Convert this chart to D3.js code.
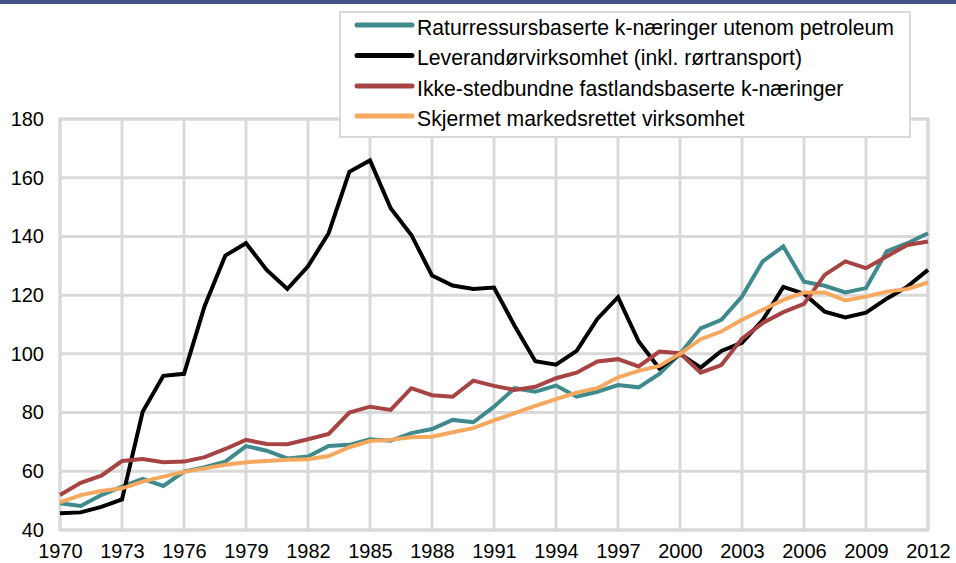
<!DOCTYPE html>
<html>
<head>
<meta charset="utf-8">
<script src="https://cdn.jsdelivr.net/npm/d3@7"></script>
<style>
  html, body { margin: 0; padding: 0; background: #fff; }
  svg { display: block; font-family: "Liberation Sans", Arial, sans-serif; }
</style>
</head>
<body>
<svg id="chart" width="956" height="563"></svg>
<script>
const years = d3.range(1970, 2013);
const xTickYears = [1970, 1973, 1976, 1979, 1982, 1985, 1988, 1991, 1994, 1997, 2000, 2003, 2006, 2009, 2012];
const yTicks = [40, 60, 80, 100, 120, 140, 160, 180];

const seriesNames = [
  "Raturressursbaserte k-næringer utenom petroleum",
  "Leverandørvirksomhet (inkl. rørtransport)",
  "Ikke-stedbundne fastlandsbaserte k-næringer",
  "Skjermet markedsrettet virksomhet"
];
const seriesColors = ["#3e8a8c", "#000000", "#a84343", "#f6a95e"];

const raturressurs = [49.1, 48.2, 51.9, 54.8, 57.4, 55.0, 59.9, 61.4, 63.3, 68.6,
  67.0, 64.4, 65.0, 68.6, 69.0, 70.9, 70.4, 73.0, 74.4, 77.5,
  76.7, 82.0, 88.3, 87.1, 89.2, 85.4, 87.1, 89.4, 88.6, 93.2,
  100.0, 108.7, 111.6, 119.5, 131.5, 136.6, 124.6, 123.2, 120.9, 122.4,
  134.9, 137.7, 141.1];
const leverandor = [45.7, 46.0, 47.9, 50.4, 80.3, 92.5, 93.2, 116.3, 133.5, 137.7,
  128.6, 122.1, 129.8, 141.1, 162.0, 165.9, 149.6, 140.5, 126.7, 123.3,
  122.1, 122.6, 109.5, 97.5, 96.3, 101.0, 111.9, 119.3, 104.2, 95.0,
  100.0, 95.3, 101.0, 103.8, 111.5, 122.8, 120.5, 114.4, 112.4, 114.0,
  118.8, 122.9, 128.6];
const ikkeStedbundne = [51.9, 56.1, 58.5, 63.5, 64.2, 63.1, 63.3, 64.8, 67.6, 70.7,
  69.3, 69.2, 70.9, 72.7, 80.0, 82.0, 80.9, 88.3, 85.9, 85.4,
  90.9, 89.1, 87.7, 88.8, 91.7, 93.6, 97.4, 98.2, 95.7, 100.8,
  100.2, 93.6, 96.2, 105.2, 110.5, 114.2, 117.0, 126.9, 131.5, 129.2,
  133.2, 137.1, 138.3];
const skjermet = [49.4, 51.9, 53.3, 54.2, 56.5, 58.2, 59.8, 61.0, 62.2, 63.1,
  63.5, 63.9, 64.1, 65.2, 68.2, 70.3, 70.7, 71.6, 71.8, 73.3,
  74.7, 77.3, 79.8, 82.3, 84.6, 86.8, 88.3, 92.0, 94.2, 95.9,
  100.0, 105.0, 107.6, 111.6, 115.0, 118.4, 120.9, 120.9, 118.2, 119.5,
  121.2, 122.1, 124.3];

const seriesValues = [raturressurs, leverandor, ikkeStedbundne, skjermet];

const svg = d3.select("#chart");
const W = 956, H = 563;
const plot = { left: 60, right: 928, top: 119, bottom: 530 };

// top band
svg.append("rect").attr("x", 0).attr("y", 0).attr("width", W).attr("height", 4).attr("fill", "#415382");

const x = d3.scaleLinear().domain([1970, 2012]).range([plot.left, plot.right]);
const y = d3.scaleLinear().domain([40, 180]).range([plot.bottom, plot.top]);

const gridColor = "#d9d9d9";
const grid = svg.append("g");
grid.selectAll("line.h").data(yTicks).join("line")
  .attr("x1", plot.left).attr("x2", plot.right)
  .attr("y1", d => y(d)).attr("y2", d => y(d))
  .attr("stroke", gridColor).attr("stroke-width", 3);
grid.selectAll("line.v").data(xTickYears).join("line")
  .attr("x1", d => x(d)).attr("x2", d => x(d))
  .attr("y1", plot.top).attr("y2", plot.bottom)
  .attr("stroke", gridColor).attr("stroke-width", 3);
grid.append("rect").attr("x", plot.left).attr("y", plot.top)
  .attr("width", plot.right - plot.left).attr("height", plot.bottom - plot.top)
  .attr("fill", "none").attr("stroke", gridColor).attr("stroke-width", 3);

// axes
const yAxis = d3.axisLeft(y).tickValues(yTicks).tickSize(0).tickPadding(0);
const yg = svg.append("g").attr("transform", `translate(44,0)`).call(yAxis);
yg.select(".domain").remove();
yg.selectAll("text").attr("font-size", 20).attr("fill", "#000")
  .attr("font-family", "'Liberation Sans', Arial, sans-serif");

const xAxis = d3.axisBottom(x).tickValues(xTickYears).tickFormat(d3.format("d")).tickSize(0).tickPadding(0);
const xg = svg.append("g").attr("transform", `translate(0,544)`).call(xAxis);
xg.select(".domain").remove();
xg.selectAll("text").attr("font-size", 20).attr("fill", "#000").attr("dy", "0.71em")
  .attr("font-family", "'Liberation Sans', Arial, sans-serif");

// lines
const line = d3.line().x((d, i) => x(years[i])).y(d => y(d));
svg.append("g").selectAll("path").data(seriesValues).join("path")
  .attr("d", d => line(d))
  .attr("fill", "none")
  .attr("stroke", (d, i) => seriesColors[i])
  .attr("stroke-width", 4)
  .attr("stroke-linejoin", "miter");

// legend
const lg = svg.append("g");
lg.append("rect").attr("x", 340).attr("y", 12).attr("width", 570).attr("height", 125)
  .attr("fill", "#fff").attr("stroke", gridColor).attr("stroke-width", 2);
const rowY = [25, 55.5, 86, 116];
const items = lg.selectAll("g.item").data(seriesNames).join("g")
  .attr("transform", (d, i) => `translate(0,${rowY[i]})`);
items.append("line").attr("x1", 357).attr("x2", 412).attr("y1", 0).attr("y2", 0)
  .attr("stroke", (d, i) => seriesColors[i]).attr("stroke-width", 5).attr("stroke-linecap", "round");
items.append("text").attr("x", 417).attr("y", 2.5).attr("dy", "0.35em")
  .attr("font-size", 21.2).attr("fill", "#000").text(d => d);
</script>
</body>
</html>
